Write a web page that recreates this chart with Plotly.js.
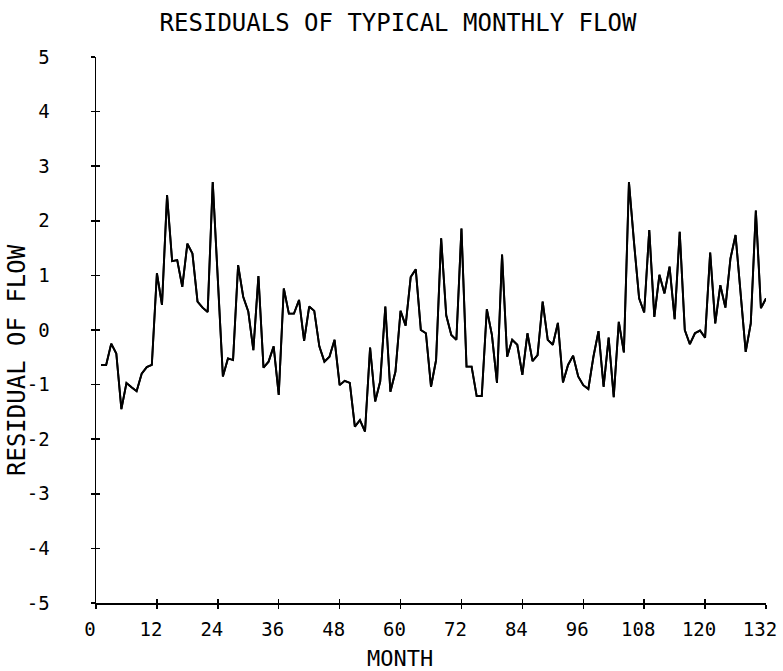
<!DOCTYPE html>
<html>
<head>
<meta charset="utf-8">
<script src="https://cdn.plot.ly/plotly-3.0.1.min.js"></script>
<style>html,body{margin:0;padding:0;background:#fff;}#chart{width:783px;height:671px;}</style>
</head>
<body>
<div id="chart"></div>
<script>
// Month index 1..132
const months = Array.from({length: 132}, (_, i) => i + 1);

// Residual of flow
const residuals = [
  -0.64, -0.64, -0.25, -0.43, -1.45, -0.97, -1.05, -1.12, -0.80, -0.68,
  -0.64,  1.04,  0.46,  2.47,  1.26,  1.28,  0.79,  1.58,  1.40,  0.52,
   0.41,  0.33,  2.71,  0.90, -0.85, -0.52, -0.55,  1.19,  0.61,  0.34,
  -0.37,  0.99, -0.69, -0.58, -0.30, -1.19,  0.76,  0.30,  0.30,  0.55,
  -0.20,  0.43,  0.35, -0.30, -0.58, -0.49, -0.18, -1.01, -0.93, -0.97,
  -1.77, -1.65, -1.86, -0.32, -1.31, -0.94,  0.43, -1.13, -0.76,  0.35,
   0.08,  0.97,  1.11,  0.00, -0.06, -1.04, -0.55,  1.68,  0.27, -0.09,
  -0.18,  1.86, -0.67, -0.67, -1.21, -1.21,  0.38, -0.09, -0.97,  1.38,
  -0.49, -0.18, -0.27, -0.82, -0.06, -0.57, -0.46,  0.52, -0.18, -0.27,
   0.13, -0.96, -0.64, -0.47, -0.85, -1.01, -1.08, -0.49, -0.02, -1.04,
  -0.14, -1.23,  0.15, -0.41,  2.71,  1.60,  0.58,  0.32,  1.83,  0.24,
   1.01,  0.67,  1.16,  0.20,  1.80,  0.00, -0.26, -0.06, -0.01, -0.14,
   1.42,  0.12,  0.82,  0.41,  1.31,  1.74,  0.70, -0.40,  0.12,  2.19,
   0.40,  0.58
];

// Tick positions and labels
const xTickVals = [0, 12, 24, 36, 48, 60, 72, 84, 96, 108, 120, 132];
const xTickText = ["0", "12", "24", "36", "48", "60", "72", "84", "96", "108", "120", "132"];
const yTickVals = [-5, -4, -3, -2, -1, 0, 1, 2, 3, 4, 5];
const yTickText = ["-5", "-4", "-3", "-2", "-1", "0", "1", "2", "3", "4", "5"];

const FONT = "DejaVu Sans Mono, Liberation Mono, monospace";

const lineStyle = {color: "#000", width: 1.9};

const traces = [
  {x: months, y: residuals, type: "scatter", mode: "lines", line: lineStyle,
   xaxis: "x", yaxis: "y", hoverinfo: "x+y"},
  {x: months, y: residuals, type: "scatter", mode: "lines", line: lineStyle,
   xaxis: "x2", yaxis: "y2", hoverinfo: "skip"}
];

const baseX = {
  range: [0, 132], tickmode: "array", tickvals: xTickVals,
  showgrid: false, zeroline: false, ticklen: 4, tickwidth: 1.5, tickcolor: "#000"
};
const baseY = {
  range: [-5, 5], tickmode: "array", tickvals: yTickVals,
  showgrid: false, zeroline: false, ticklen: 4, tickwidth: 1.5, tickcolor: "#000"
};

const layout = {
  width: 783, height: 671,
  margin: {l: 96, r: 17, t: 57, b: 68},
  paper_bgcolor: "#fff", plot_bgcolor: "rgba(0,0,0,0)",
  showlegend: false,
  font: {family: FONT, color: "#000"},
  title: {
    text: "RESIDUALS OF TYPICAL MONTHLY FLOW",
    font: {family: FONT, size: 24, color: "#000"},
    xref: "container", x: 398 / 783, xanchor: "center",
    yref: "container", y: 1 - 23 / 671, yanchor: "middle"
  },
  xaxis: Object.assign({}, baseX, {
    ticks: "outside", ticktext: xTickText, showticklabels: true,
    showline: true, linecolor: "#000", linewidth: 1.5,
    tickfont: {family: FONT, size: 19, color: "#000"},
    ticklabelstandoff: 5, ticklabelshift: -6, anchor: "y"
  }),
  yaxis: Object.assign({}, baseY, {
    ticks: "outside", ticktext: yTickText, showticklabels: true,
    showline: true, linecolor: "#000", linewidth: 1.5,
    tickfont: {family: FONT, size: 19, color: "#000"},
    ticklabelstandoff: 37, anchor: "x"
  }),
  xaxis2: Object.assign({}, baseX, {
    overlaying: "x", anchor: "y2", side: "bottom", ticks: "inside",
    showticklabels: false, showline: false
  }),
  yaxis2: Object.assign({}, baseY, {
    overlaying: "y", anchor: "x2", side: "left", ticks: "inside",
    showticklabels: false, showline: false
  }),
  annotations: [
    {text: "MONTH", xref: "paper", yref: "paper",
     x: (400 - 96) / 670, y: -(658 - 603) / 546, xanchor: "center", yanchor: "middle",
     showarrow: false, bgcolor: "rgba(0,0,0,0)", borderpad: 0,
     font: {family: FONT, size: 22, color: "#000"}},
    {text: "RESIDUAL OF FLOW", xref: "paper", yref: "paper", textangle: -90,
     x: -(96 - 17) / 670, y: (603 - 360) / 546, xanchor: "center", yanchor: "middle",
     showarrow: false, bgcolor: "rgba(0,0,0,0)", borderpad: 0,
     font: {family: FONT, size: 24, color: "#000"}}
  ]
};

Plotly.newPlot("chart", traces, layout, {displayModeBar: false, staticPlot: true});
</script>
</body>
</html>
